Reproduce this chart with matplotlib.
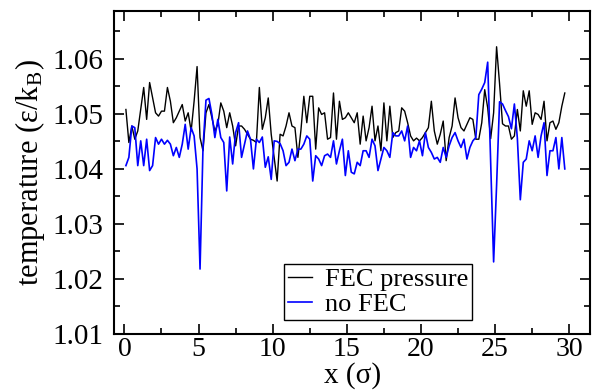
import numpy as np
import matplotlib
matplotlib.use("Agg")
import matplotlib.pyplot as plt
from matplotlib.ticker import MultipleLocator

# positions along the box, 0.1 .. 29.7 every 0.2
x = np.round(np.arange(0.1, 29.71, 0.2), 1)

fec_pressure = [
    1.0508, 1.0448, 1.0478, 1.0454, 1.0469, 1.0508, 1.0548, 1.0490, 1.0557, 1.0529,
    1.0502, 1.0496, 1.0505, 1.0505, 1.0548, 1.0523, 1.0484, 1.0493, 1.0505, 1.0517,
    1.0487, 1.0502, 1.0469, 1.0523, 1.0586,
    1.0457, 1.0433, 1.0502, 1.0517, 1.0493, 1.0469, 1.0481, 1.0520, 1.0505, 1.0475,
    1.0502, 1.0478, 1.0442, 1.0478, 1.0478, 1.0472, 1.0463, 1.0454, 1.0452, 1.0448,
    1.0548, 1.0472, 1.0493, 1.0529, 1.0463,
    1.0421, 1.0378, 1.0463, 1.0460, 1.0478, 1.0502, 1.0478, 1.0475, 1.0421, 1.0469,
    1.0532, 1.0484, 1.0532, 1.0532, 1.0436, 1.0511, 1.0499, 1.0502, 1.0454, 1.0457,
    1.0538, 1.0454, 1.0523, 1.0490, 1.0493, 1.0502,
    1.0493, 1.0484, 1.0502, 1.0445, 1.0496, 1.0451, 1.0475, 1.0514, 1.0451, 1.0478,
    1.0433, 1.0520, 1.0451, 1.0514, 1.0457, 1.0466, 1.0469, 1.0511, 1.0505, 1.0484,
    1.0460, 1.0451, 1.0456, 1.0451, 1.0457, 1.0466,
    1.0475, 1.0523, 1.0469, 1.0445, 1.0463, 1.0487, 1.0415, 1.0457, 1.0478, 1.0529,
    1.0493, 1.0475, 1.0469, 1.0481, 1.0493, 1.0490, 1.0454, 1.0454, 1.0484, 1.0544,
    1.0511, 1.0455, 1.0502, 1.0622, 1.0555, 1.0482,
    1.0478, 1.0478, 1.0454, 1.0460, 1.0508, 1.0469, 1.0542, 1.0514, 1.0542, 1.0481,
    1.0502, 1.0499, 1.0490, 1.0523, 1.0451, 1.0484, 1.0487, 1.0472, 1.0484, 1.0514,
    1.0538,
]

no_fec = [
    1.0406, 1.0421, 1.0478, 1.0475, 1.0406, 1.0451, 1.0406, 1.0454, 1.0397, 1.0406,
    1.0457, 1.0445, 1.0454, 1.0445, 1.0452, 1.0445, 1.0424, 1.0439, 1.0421, 1.0445,
    1.0481, 1.0436, 1.0475, 1.0460, 1.0400,
    1.0218, 1.0439, 1.0525, 1.0528, 1.0499, 1.0457, 1.0490, 1.0457, 1.0448, 1.0360,
    1.0458, 1.0409, 1.0466, 1.0484, 1.0421, 1.0445, 1.0469, 1.0454, 1.0400, 1.0454,
    1.0448, 1.0458, 1.0403, 1.0422, 1.0381,
    1.0451, 1.0450, 1.0446, 1.0433, 1.0406, 1.0412, 1.0436, 1.0415, 1.0436, 1.0436,
    1.0445, 1.0460, 1.0454, 1.0378, 1.0424, 1.0418, 1.0406, 1.0424, 1.0427, 1.0421,
    1.0451, 1.0409, 1.0433, 1.0454, 1.0388, 1.0433,
    1.0394, 1.0391, 1.0412, 1.0406, 1.0433, 1.0433, 1.0421, 1.0454, 1.0442, 1.0397,
    1.0418, 1.0439, 1.0433, 1.0421, 1.0466, 1.0460, 1.0460, 1.0469, 1.0451, 1.0478,
    1.0421, 1.0439, 1.0433, 1.0451, 1.0424, 1.0466,
    1.0439, 1.0430, 1.0418, 1.0421, 1.0412, 1.0439, 1.0421, 1.0442, 1.0457, 1.0466,
    1.0451, 1.0439, 1.0454, 1.0418, 1.0439, 1.0451, 1.0457, 1.0535, 1.0545, 1.0557,
    1.0594, 1.0410, 1.0231, 1.0370, 1.0522, 1.0518,
    1.0506, 1.0495, 1.0473, 1.0518, 1.0456, 1.0344, 1.0412, 1.0418, 1.0451, 1.0433,
    1.0460, 1.0421, 1.0460, 1.0484, 1.0388, 1.0433, 1.0433, 1.0457, 1.0400, 1.0457,
    1.0400,
]

plt.rcParams["font.family"] = ["Liberation Serif", "DejaVu Serif"]
plt.rcParams["mathtext.fontset"] = "stix"

fig = plt.figure(figsize=(6.01, 3.90), dpi=100)
ax = fig.add_axes([0.19, 0.1436, 0.7917, 0.8282])

ax.plot(x, fec_pressure, color="black", lw=1.0, label="FEC pressure")
ax.plot(x, no_fec, color="#0000ff", lw=1.2, label="no FEC")

ax.set_xlim(-0.69, 31.4)
ax.set_ylim(1.01, 1.0687)
ax.xaxis.set_major_locator(MultipleLocator(5))
ax.xaxis.set_minor_locator(MultipleLocator(2.5))
ax.yaxis.set_minor_locator(MultipleLocator(0.005))
ax.set_yticks(np.arange(1.01, 1.065, 0.01))
ax.set_yticklabels(["1.01", "1.02", "1.03", "1.04", "1.05", "1.06"])

ax.tick_params(which="both", direction="in", top=True, right=True, width=1.2)
ax.tick_params(which="major", length=7, labelsize=21)
ax.tick_params(which="minor", length=4)
ax.tick_params(axis="y", pad=8)
ax.tick_params(axis="x", pad=2, labelsize=20)
for sp in ax.spines.values():
    sp.set_linewidth(1.5)

ax.set_xlabel("x (σ)", fontsize=21, labelpad=0)
ax.set_ylabel(r"temperature (ε/k$_\mathregular{B}$)", fontsize=22, labelpad=4)

leg = ax.legend(loc="lower left", bbox_to_anchor=(0.357, 0.043), borderaxespad=0,
                fontsize=19, fancybox=False, edgecolor="black", framealpha=1,
                handlelength=0.9, handletextpad=0.5, borderpad=0.15, labelspacing=0.05)
leg.get_frame().set_linewidth(1.0)

fig.savefig("out.png", dpi=100)
